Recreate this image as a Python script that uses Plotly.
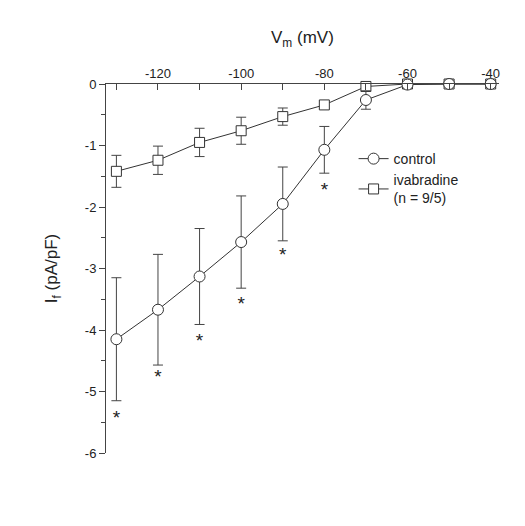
import plotly.graph_objects as go

# membrane voltage steps (mV)
vm = [-130, -120, -110, -100, -90, -80, -70, -60, -50, -40]

# control current density (pA/pF) and SEM
control = [-4.15, -3.67, -3.13, -2.57, -1.95, -1.07, -0.26, -0.01, 0, 0]
control_err = [1.0, 0.9, 0.78, 0.75, 0.6, 0.38, 0.15, 0.02, 0, 0]

# ivabradine current density (pA/pF) and SEM
ivab = [-1.42, -1.24, -0.95, -0.76, -0.53, -0.34, -0.04, 0, 0, 0]
ivab_err = [0.26, 0.23, 0.23, 0.22, 0.14, 0.06, 0.03, 0, 0, 0]

# significance markers
star_x = [-130, -120, -110, -100, -90, -80]
star_y = [-5.45, -4.78, -4.2, -3.6, -2.8, -1.75]

x_ticks = [-120, -100, -80, -60, -40]
y_ticks = [0, -1, -2, -3, -4, -5, -6]

fig = go.Figure()

err_style = dict(type="data", thickness=1, width=5, color="#444")

fig.add_trace(go.Scatter(
    x=vm, y=ivab, name="ivabradine<br>(n = 9/5)", mode="lines+markers",
    error_y=dict(array=ivab_err, **err_style),
    line=dict(color="#333", width=1),
    marker=dict(symbol="square", size=10, color="white", line=dict(color="#333", width=1)),
    cliponaxis=False,
))
fig.add_trace(go.Scatter(
    x=vm, y=control, name="control", mode="lines+markers",
    error_y=dict(array=control_err, **err_style),
    line=dict(color="#333", width=1),
    marker=dict(symbol="circle", size=11, color="white", line=dict(color="#333", width=1)),
    cliponaxis=False,
))
fig.add_trace(go.Scatter(
    x=star_x, y=star_y, mode="text", text=["*"] * len(star_x),
    textfont=dict(size=19, color="#222"), showlegend=False, cliponaxis=False,
))

fig.update_layout(
    width=525, height=526,
    margin=dict(l=98, r=34, t=76, b=81),
    plot_bgcolor="white", paper_bgcolor="white",
    font=dict(family="Arial, Liberation Sans", size=13, color="#222"),
    legend=dict(x=0.63, y=0.84, xanchor="left", yanchor="top", traceorder="reversed",
                bgcolor="rgba(0,0,0,0)", font=dict(size=14), tracegroupgap=0),
    annotations=[
        dict(text="V<sub>m</sub> (mV)", x=0.5, y=1, xref="paper", yref="paper",
             yshift=58, showarrow=False, font=dict(size=17)),
    ],
)
fig.update_xaxes(
    side="top", range=[-132.5, -38], tickvals=x_ticks, ticktext=[str(v) for v in x_ticks],
    ticks="inside", ticklen=6, showline=True, linecolor="#444", linewidth=1,
    showgrid=False, zeroline=False,
    minor=dict(tickvals=[-130, -110, -90, -70, -50], ticks="inside", ticklen=6, tickcolor="#444"),
)
fig.update_yaxes(
    range=[-6, 0], tickvals=y_ticks, ticktext=[str(v) for v in y_ticks],
    ticks="outside", ticklen=6,
    showline=True, linecolor="#444", linewidth=1, showgrid=False, zeroline=False,
    title=dict(text="I<sub>f</sub> (pA/pF)", font=dict(size=17), standoff=22),
    minor=dict(tickvals=[-0.5, -1.5, -2.5, -3.5, -4.5, -5.5], ticks="outside", ticklen=4, tickcolor="#444"),
)

fig.write_html("out.html")
